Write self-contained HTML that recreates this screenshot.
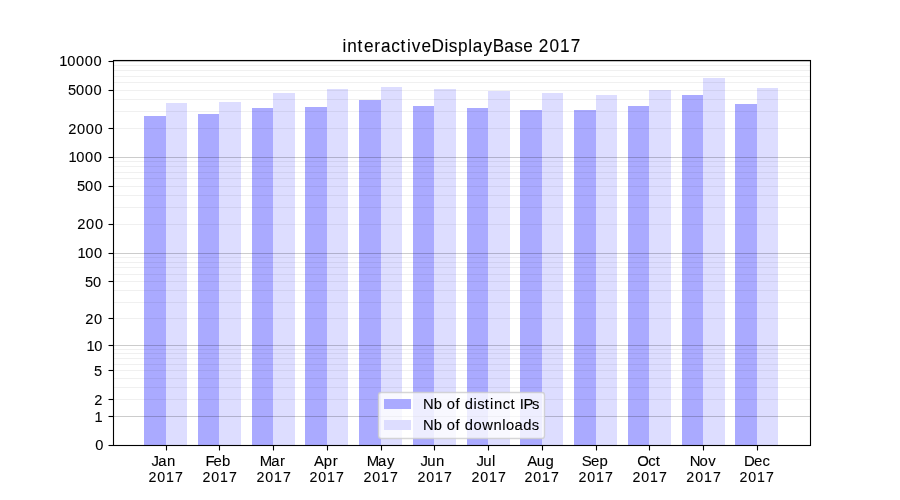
<!DOCTYPE html>
<html lang="en">
<head>
<meta charset="utf-8">
<title>interactiveDisplayBase 2017</title>
<style>
html,body{margin:0;padding:0;background:#fff;}
body{width:900px;height:500px;overflow:hidden;}
svg{display:block;will-change:transform;}
text{font-family:"Liberation Sans",sans-serif;fill:#000;stroke:#000;stroke-width:0.1px;white-space:pre;}
.yt{font-size:14.3px;}
.mo{font-size:14.8px;}
.yr{font-size:14.5px;}
.lg{font-size:14.8px;}
.ti{font-size:17.7px;}
</style>
</head>
<body>
<svg width="900" height="500" viewBox="0 0 900 500">
<rect x="0" y="0" width="900" height="500" fill="#ffffff"/>
<g fill="#aaaaff">
<rect x="144" y="116" width="22" height="329"/>
<rect x="198" y="114" width="21" height="331"/>
<rect x="252" y="108" width="21" height="337"/>
<rect x="305" y="107" width="22" height="338"/>
<rect x="359" y="100" width="22" height="345"/>
<rect x="413" y="106" width="21" height="339"/>
<rect x="467" y="108" width="21" height="337"/>
<rect x="520" y="110" width="22" height="335"/>
<rect x="574" y="110" width="22" height="335"/>
<rect x="628" y="106" width="21" height="339"/>
<rect x="682" y="95" width="21" height="350"/>
<rect x="735" y="104" width="22" height="341"/>
</g>
<g fill="#ddddff">
<rect x="166" y="103" width="21" height="342"/>
<rect x="219" y="102" width="22" height="343"/>
<rect x="273" y="93" width="22" height="352"/>
<rect x="327" y="89" width="21" height="356"/>
<rect x="381" y="87" width="21" height="358"/>
<rect x="434" y="89" width="22" height="356"/>
<rect x="488" y="91" width="22" height="354"/>
<rect x="542" y="93" width="21" height="352"/>
<rect x="596" y="95" width="21" height="350"/>
<rect x="649" y="90" width="22" height="355"/>
<rect x="703" y="78" width="22" height="367"/>
<rect x="757" y="88" width="21" height="357"/>
</g>
<g stroke="#000" stroke-width="1.11" stroke-opacity="0.06">
<line x1="113" y1="399.5" x2="810" y2="399.5"/>
<line x1="113" y1="387.5" x2="810" y2="387.5"/>
<line x1="113" y1="378.5" x2="810" y2="378.5"/>
<line x1="113" y1="370.5" x2="810" y2="370.5"/>
<line x1="113" y1="364.5" x2="810" y2="364.5"/>
<line x1="113" y1="358.5" x2="810" y2="358.5"/>
<line x1="113" y1="353.5" x2="810" y2="353.5"/>
<line x1="113" y1="349.5" x2="810" y2="349.5"/>
<line x1="113" y1="318.5" x2="810" y2="318.5"/>
<line x1="113" y1="302.5" x2="810" y2="302.5"/>
<line x1="113" y1="290.5" x2="810" y2="290.5"/>
<line x1="113" y1="281.5" x2="810" y2="281.5"/>
<line x1="113" y1="274.5" x2="810" y2="274.5"/>
<line x1="113" y1="267.5" x2="810" y2="267.5"/>
<line x1="113" y1="262.5" x2="810" y2="262.5"/>
<line x1="113" y1="257.5" x2="810" y2="257.5"/>
<line x1="113" y1="224.5" x2="810" y2="224.5"/>
<line x1="113" y1="207.5" x2="810" y2="207.5"/>
<line x1="113" y1="195.5" x2="810" y2="195.5"/>
<line x1="113" y1="186.5" x2="810" y2="186.5"/>
<line x1="113" y1="178.5" x2="810" y2="178.5"/>
<line x1="113" y1="172.5" x2="810" y2="172.5"/>
<line x1="113" y1="166.5" x2="810" y2="166.5"/>
<line x1="113" y1="161.5" x2="810" y2="161.5"/>
<line x1="113" y1="128.5" x2="810" y2="128.5"/>
<line x1="113" y1="111.5" x2="810" y2="111.5"/>
<line x1="113" y1="99.5" x2="810" y2="99.5"/>
<line x1="113" y1="90.5" x2="810" y2="90.5"/>
<line x1="113" y1="82.5" x2="810" y2="82.5"/>
<line x1="113" y1="76.5" x2="810" y2="76.5"/>
<line x1="113" y1="70.5" x2="810" y2="70.5"/>
<line x1="113" y1="65.5" x2="810" y2="65.5"/>
</g>
<g stroke="#000" stroke-width="1.11" stroke-opacity="0.2">
<line x1="113" y1="416.5" x2="810" y2="416.5"/>
<line x1="113" y1="345.5" x2="810" y2="345.5"/>
<line x1="113" y1="253.5" x2="810" y2="253.5"/>
<line x1="113" y1="157.5" x2="810" y2="157.5"/>
<line x1="113" y1="61.5" x2="810" y2="61.5"/>
</g>
<rect x="378.5" y="392.5" width="166" height="46" rx="2.78" ry="2.78" fill="#fff" fill-opacity="0.8" stroke="#cccccc" stroke-opacity="0.8" stroke-width="1.39"/>
<rect x="384" y="399" width="27" height="10" fill="#aaaaff"/>
<rect x="384" y="420" width="27" height="10" fill="#ddddff"/>
<text class="lg" transform="scale(0.9976,1)" x="423.92 434.85 443.29 447.86 456.54 461.12 465.76 474.67 478.51 485.86 491.23 495.12 504.07 511.64 516.71 521.13 524.72 533.4" y="409">Nb of distinct IPs</text>
<text class="lg" transform="scale(0.9976,1)" x="424.06 434.74 443.43 447.75 456.69 461.26 465.9 474.66 483.36 494.72 503.5 507.22 515.7 524.58 532.96" y="430">Nb of downloads</text>
<g stroke="#000" stroke-width="1.11">
<line x1="108.5" y1="445.5" x2="113" y2="445.5"/>
<line x1="108.5" y1="416.5" x2="113" y2="416.5"/>
<line x1="108.5" y1="399.5" x2="113" y2="399.5"/>
<line x1="108.5" y1="370.5" x2="113" y2="370.5"/>
<line x1="108.5" y1="345.5" x2="113" y2="345.5"/>
<line x1="108.5" y1="318.5" x2="113" y2="318.5"/>
<line x1="108.5" y1="281.5" x2="113" y2="281.5"/>
<line x1="108.5" y1="253.5" x2="113" y2="253.5"/>
<line x1="108.5" y1="224.5" x2="113" y2="224.5"/>
<line x1="108.5" y1="186.5" x2="113" y2="186.5"/>
<line x1="108.5" y1="157.5" x2="113" y2="157.5"/>
<line x1="108.5" y1="128.5" x2="113" y2="128.5"/>
<line x1="108.5" y1="90.5" x2="113" y2="90.5"/>
<line x1="108.5" y1="61.5" x2="113" y2="61.5"/>
<line x1="166.5" y1="446" x2="166.5" y2="450.5"/>
<line x1="219.5" y1="446" x2="219.5" y2="450.5"/>
<line x1="273.5" y1="446" x2="273.5" y2="450.5"/>
<line x1="327.5" y1="446" x2="327.5" y2="450.5"/>
<line x1="381.5" y1="446" x2="381.5" y2="450.5"/>
<line x1="434.5" y1="446" x2="434.5" y2="450.5"/>
<line x1="488.5" y1="446" x2="488.5" y2="450.5"/>
<line x1="542.5" y1="446" x2="542.5" y2="450.5"/>
<line x1="596.5" y1="446" x2="596.5" y2="450.5"/>
<line x1="649.5" y1="446" x2="649.5" y2="450.5"/>
<line x1="703.5" y1="446" x2="703.5" y2="450.5"/>
<line x1="757.5" y1="446" x2="757.5" y2="450.5"/>
</g>
<rect x="113.5" y="60.5" width="697" height="385" fill="none" stroke="#000" stroke-width="1.11"/>
<text class="yt" transform="scale(1.0238,1)" x="92.92" y="450">0</text>
<text class="yt" transform="scale(1.0238,1)" x="92.37" y="422">1</text>
<text class="yt" transform="scale(1.0238,1)" x="91.99" y="405">2</text>
<text class="yt" transform="scale(1.0238,1)" x="91.81" y="376">5</text>
<text class="yt" transform="scale(1.0238,1)" x="84.53 92.01" y="351">10</text>
<text class="yt" transform="scale(1.0238,1)" x="83.37 91.93" y="324">20</text>
<text class="yt" transform="scale(1.0238,1)" x="82.93 90.88" y="287">50</text>
<text class="yt" transform="scale(1.0238,1)" x="75.63 83.35 91.72" y="258">100</text>
<text class="yt" transform="scale(1.0238,1)" x="75.5 84.06 92.68" y="229">200</text>
<text class="yt" transform="scale(1.0238,1)" x="75.21 83.15 91.53" y="191">500</text>
<text class="yt" transform="scale(1.0238,1)" x="66.87 74.58 82.96 91.58" y="162">1000</text>
<text class="yt" transform="scale(1.0238,1)" x="66.58 75.14 83.76 92.39" y="134">2000</text>
<text class="yt" transform="scale(1.0238,1)" x="66.49 74.18 82.81 91.43" y="95">5000</text>
<text class="yt" transform="scale(1.0238,1)" x="57.97 65.69 74.31 82.69 91.31" y="66">10000</text>
<text class="mo" transform="scale(1.0078,1)" x="150.36 157.1 165.74" y="466">Jan</text>
<text class="yr" transform="scale(0.9805,1)" x="151.56 160.49 169.43 178.47" y="482">2017</text>
<text class="mo" transform="scale(1.0078,1)" x="203.86 211.78 220.19" y="466">Feb</text>
<text class="yr" transform="scale(0.9805,1)" x="206.61 215.55 224.48 233.53" y="482">2017</text>
<text class="mo" transform="scale(1.0078,1)" x="257.7 269.12 277.86" y="466">Mar</text>
<text class="yr" transform="scale(0.9805,1)" x="261.66 270.59 279.53 288.57" y="482">2017</text>
<text class="mo" transform="scale(1.0078,1)" x="311.55 321.14 330.16" y="466">Apr</text>
<text class="yr" transform="scale(0.9805,1)" x="315.75 324.69 333.62 342.67" y="482">2017</text>
<text class="mo" transform="scale(1.0078,1)" x="363.86 375.13 384.02" y="466">May</text>
<text class="yr" transform="scale(0.9805,1)" x="370.85 379.79 388.46 397.76" y="482">2017</text>
<text class="mo" transform="scale(1.0078,1)" x="417.33 423.96 432.74" y="466">Jun</text>
<text class="yr" transform="scale(0.9805,1)" x="425.84 434.78 443.71 452.76" y="482">2017</text>
<text class="mo" transform="scale(1.0078,1)" x="472.83 479.47 488.24" y="466">Jul</text>
<text class="yr" transform="scale(0.9805,1)" x="480.78 489.71 498.65 507.95" y="482">2017</text>
<text class="mo" transform="scale(1.0078,1)" x="523.05 532.62 541.3" y="466">Aug</text>
<text class="yr" transform="scale(0.9805,1)" x="535.06 543.99 552.67 561.97" y="482">2017</text>
<text class="mo" transform="scale(1.0078,1)" x="577.26 586.52 594.93" y="466">Sep</text>
<text class="yr" transform="scale(0.9805,1)" x="590.13 598.81 607.75 617.05" y="482">2017</text>
<text class="mo" transform="scale(1.0078,1)" x="632.3 643.17 650.68" y="466">Oct</text>
<text class="yr" transform="scale(0.9805,1)" x="644.98 653.92 662.85 672.15" y="482">2017</text>
<text class="mo" transform="scale(1.0078,1)" x="684.48 694.03 702.73" y="466">Nov</text>
<text class="yr" transform="scale(0.9805,1)" x="699.8 708.99 717.93 727.23" y="482">2017</text>
<text class="mo" transform="scale(1.0078,1)" x="738.17 748.22 756.69" y="466">Dec</text>
<text class="yr" transform="scale(0.9805,1)" x="754.29 763.22 772.16 781.2" y="482">2017</text>
<text class="ti" transform="scale(0.9710,1)" x="352.66 357.54 368.19 374.95 385.49 392.34 402.97 412.38 419.18 424.16 434.03 444.42 457.78 462.28 471.67 482.32 486.87 498.06 507.5 519.25 529.69 538.84 548.98 554.73 565.85 576.66 587.86" y="52">interactiveDisplayBase 2017</text>
</svg>
</body>
</html>
